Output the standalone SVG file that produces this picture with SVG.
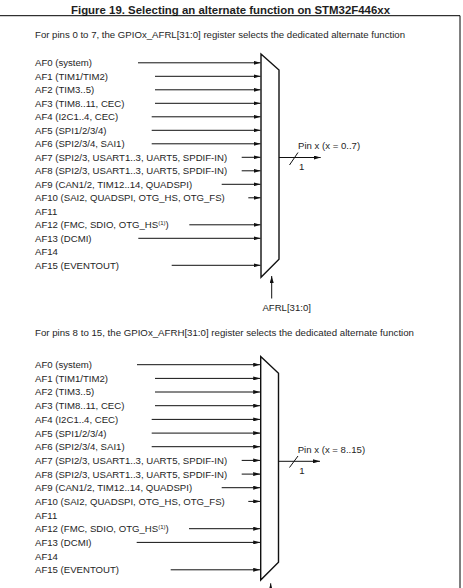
<svg xmlns="http://www.w3.org/2000/svg" width="463" height="588" viewBox="0 0 463 588">
<style>
text{font-family:"Liberation Sans",Arial,sans-serif;fill:#1e1e1e}
.t{font-size:11px;font-weight:bold}
.h{font-size:9.3px}
.l{font-size:9.6px}
.w{stroke:#111;stroke-width:1;fill:none}
.m{stroke:#111;stroke-width:1.4;fill:#fff}
.b{stroke:#000;stroke-width:1;fill:none}
</style>
<defs>
<marker id="ah" viewBox="0 0 7 4" markerWidth="7" markerHeight="4" refX="7" refY="2" orient="auto" markerUnits="userSpaceOnUse">
<path d="M0,0 L7,2 L0,4 z" fill="#111"/>
</marker>
</defs>
<rect width="463" height="588" fill="#fff"/>
<text class="t" x="230.5" y="14" text-anchor="middle" textLength="319" lengthAdjust="spacingAndGlyphs">Figure 19. Selecting an alternate function on STM32F446xx</text>
<path class="b" d="M0,15.7 H460 V588"/>

<g id="section-afrl">
<text class="h" x="35" y="37.5" textLength="370" lengthAdjust="spacingAndGlyphs">For pins 0 to 7, the GPIOx_AFRL[31:0] register selects the dedicated alternate function</text>
<g id="labels-afrl" class="l">
<text class="l" x="35" y="66.2">AF0 (system)</text>
<text class="l" x="35" y="79.7">AF1 (TIM1/TIM2)</text>
<text class="l" x="35" y="93.2">AF2 (TIM3..5)</text>
<text class="l" x="35" y="106.7">AF3 (TIM8..11, CEC)</text>
<text class="l" x="35" y="120.2">AF4 (I2C1..4, CEC)</text>
<text class="l" x="35" y="133.7">AF5 (SPI1/2/3/4)</text>
<text class="l" x="35" y="147.2">AF6 (SPI2/3/4, SAI1)</text>
<text class="l" x="35" y="160.7">AF7 (SPI2/3, USART1..3, UART5, SPDIF-IN)</text>
<text class="l" x="35" y="174.2">AF8 (SPI2/3, USART1..3, UART5, SPDIF-IN)</text>
<text class="l" x="35" y="187.7">AF9 (CAN1/2, TIM12..14, QUADSPI)</text>
<text class="l" x="35" y="201.2">AF10 (SAI2, QUADSPI, OTG_HS, OTG_FS)</text>
<text class="l" x="35" y="214.7">AF11</text>
<text class="l" x="35" y="228.2">AF12 (FMC, SDIO, OTG_HS<tspan font-size="6" dy="-3.5">(1)</tspan><tspan dy="3.5">)</tspan></text>
<text class="l" x="35" y="241.7">AF13 (DCMI)</text>
<text class="l" x="35" y="255.2">AF14</text>
<text class="l" x="35" y="268.7">AF15 (EVENTOUT)</text>
</g>
<g id="mux-afrl">
<polygon class="m" points="261,54 279,70 279,259.3 261,277.3"/>
</g>
<g id="connectors-afrl" class="w" marker-end="url(#ah)">
<line class="w" x1="138" y1="62.8" x2="260.5" y2="62.8" marker-end="url(#ah)"/>
<line class="w" x1="155" y1="76.3" x2="260.5" y2="76.3" marker-end="url(#ah)"/>
<line class="w" x1="155" y1="89.8" x2="260.5" y2="89.8" marker-end="url(#ah)"/>
<line class="w" x1="155" y1="103.3" x2="260.5" y2="103.3" marker-end="url(#ah)"/>
<line class="w" x1="151.7" y1="116.8" x2="260.5" y2="116.8" marker-end="url(#ah)"/>
<line class="w" x1="151.7" y1="130.3" x2="260.5" y2="130.3" marker-end="url(#ah)"/>
<line class="w" x1="151.7" y1="143.8" x2="260.5" y2="143.8" marker-end="url(#ah)"/>
<line class="w" x1="241.7" y1="157.3" x2="260.5" y2="157.3" marker-end="url(#ah)"/>
<line class="w" x1="241.7" y1="170.8" x2="260.5" y2="170.8" marker-end="url(#ah)"/>
<line class="w" x1="221.7" y1="184.3" x2="260.5" y2="184.3" marker-end="url(#ah)"/>
<line class="w" x1="248.3" y1="197.8" x2="260.5" y2="197.8" marker-end="url(#ah)"/>
<line class="w" x1="189.3" y1="224.8" x2="260.5" y2="224.8" marker-end="url(#ah)"/>
<line class="w" x1="138.3" y1="238.3" x2="260.5" y2="238.3" marker-end="url(#ah)"/>
<line class="w" x1="171.7" y1="265.3" x2="260.5" y2="265.3" marker-end="url(#ah)"/>
<line class="w" x1="279" y1="157.5" x2="320.7" y2="157.5" marker-end="url(#ah)"/>
<line class="w" x1="289.5" y1="165" x2="298" y2="152.5" marker-end="none"/>
<line class="w" x1="271.7" y1="298.5" x2="271.7" y2="276" marker-end="url(#ah)"/>
</g>
<text class="l" x="298" y="148.5">Pin x (x = 0..7)</text>
<text class="l" x="299" y="169.8">1</text>
<text class="l" x="286.7" y="311" text-anchor="middle">AFRL[31:0]</text>
</g>

<g id="section-afrh">
<text class="h" x="35" y="336" textLength="379" lengthAdjust="spacingAndGlyphs">For pins 8 to 15, the GPIOx_AFRH[31:0] register selects the dedicated alternate function</text>
<g id="labels-afrh">
<text class="l" x="35" y="368.1">AF0 (system)</text>
<text class="l" x="35" y="381.8">AF1 (TIM1/TIM2)</text>
<text class="l" x="35" y="395.4">AF2 (TIM3..5)</text>
<text class="l" x="35" y="409.1">AF3 (TIM8..11, CEC)</text>
<text class="l" x="35" y="422.8">AF4 (I2C1..4, CEC)</text>
<text class="l" x="35" y="436.5">AF5 (SPI1/2/3/4)</text>
<text class="l" x="35" y="450.1">AF6 (SPI2/3/4, SAI1)</text>
<text class="l" x="35" y="463.8">AF7 (SPI2/3, USART1..3, UART5, SPDIF-IN)</text>
<text class="l" x="35" y="477.5">AF8 (SPI2/3, USART1..3, UART5, SPDIF-IN)</text>
<text class="l" x="35" y="491.1">AF9 (CAN1/2, TIM12..14, QUADSPI)</text>
<text class="l" x="35" y="504.8">AF10 (SAI2, QUADSPI, OTG_HS, OTG_FS)</text>
<text class="l" x="35" y="518.5">AF11</text>
<text class="l" x="35" y="532.1">AF12 (FMC, SDIO, OTG_HS<tspan font-size="6" dy="-3.5">(1)</tspan><tspan dy="3.5">)</tspan></text>
<text class="l" x="35" y="545.8">AF13 (DCMI)</text>
<text class="l" x="35" y="559.5">AF14</text>
<text class="l" x="35" y="573.2">AF15 (EVENTOUT)</text>
</g>
<g id="mux-afrh">
<polygon class="m" points="260.7,356.5 278.5,373.3 278.5,562.3 260.7,580"/>
</g>
<g id="connectors-afrh">
<line class="w" x1="137" y1="364.7" x2="260.2" y2="364.7" marker-end="url(#ah)"/>
<line class="w" x1="155" y1="378.4" x2="260.2" y2="378.4" marker-end="url(#ah)"/>
<line class="w" x1="155" y1="392" x2="260.2" y2="392" marker-end="url(#ah)"/>
<line class="w" x1="155" y1="405.7" x2="260.2" y2="405.7" marker-end="url(#ah)"/>
<line class="w" x1="151.7" y1="419.4" x2="260.2" y2="419.4" marker-end="url(#ah)"/>
<line class="w" x1="151.7" y1="433.1" x2="260.2" y2="433.1" marker-end="url(#ah)"/>
<line class="w" x1="151.7" y1="446.7" x2="260.2" y2="446.7" marker-end="url(#ah)"/>
<line class="w" x1="241.7" y1="460.4" x2="260.2" y2="460.4" marker-end="url(#ah)"/>
<line class="w" x1="241.7" y1="474.1" x2="260.2" y2="474.1" marker-end="url(#ah)"/>
<line class="w" x1="221.7" y1="487.7" x2="260.2" y2="487.7" marker-end="url(#ah)"/>
<line class="w" x1="248.3" y1="501.4" x2="260.2" y2="501.4" marker-end="url(#ah)"/>
<line class="w" x1="189" y1="528.7" x2="260.2" y2="528.7" marker-end="url(#ah)"/>
<line class="w" x1="136.7" y1="542.4" x2="260.2" y2="542.4" marker-end="url(#ah)"/>
<line class="w" x1="170.7" y1="569.8" x2="260.2" y2="569.8" marker-end="url(#ah)"/>
<line class="w" x1="278.5" y1="461.3" x2="320" y2="461.3" marker-end="url(#ah)"/>
<line class="w" x1="289.5" y1="467.5" x2="298" y2="456" />
<line class="w" x1="270.7" y1="590" x2="270.7" y2="583.3" marker-end="url(#ah)"/>
</g>
<text class="l" x="297.7" y="452.5">Pin x (x = 8..15)</text>
<text class="l" x="299.3" y="474">1</text>
</g>
</svg>
